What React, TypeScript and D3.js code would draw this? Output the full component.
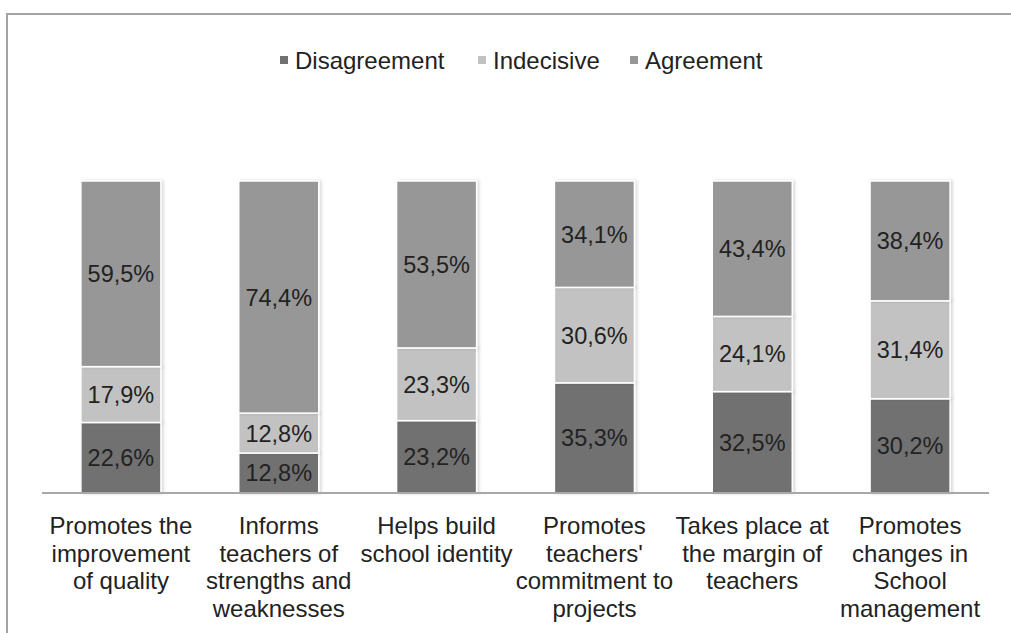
import { useEffect, useRef } from 'react';
import * as d3 from 'd3';

const categories = [
  ['Promotes the', 'improvement', 'of quality'],
  ['Informs', 'teachers of', 'strengths and', 'weaknesses'],
  ['Helps build', 'school identity'],
  ['Promotes', "teachers'", 'commitment to', 'projects'],
  ['Takes place at', 'the margin of', 'teachers'],
  ['Promotes', 'changes in', 'School', 'management'],
];
const seriesNames = ['Disagreement', 'Indecisive', 'Agreement'];
const disagreement = [22.6, 12.8, 23.2, 35.3, 32.5, 30.2];
const indecisive = [17.9, 12.8, 23.3, 30.6, 24.1, 31.4];
const agreement = [59.5, 74.4, 53.5, 34.1, 43.4, 38.4];
const colors = ['#717171', '#c2c2c2', '#979797'];

export default function App() {
  const ref = useRef<HTMLDivElement>(null);
  useEffect(() => {
    const width = 1011;
    const height = 633;
    const plotLeft = 42;
    const plotRight = 989;
    const plotTop = 181;
    const plotBottom = 493;
    const font = 'Liberation Sans, Arial, sans-serif';

    const rows = categories.map((c, i) => ({
      key: String(i),
      Disagreement: disagreement[i],
      Indecisive: indecisive[i],
      Agreement: agreement[i],
    }));
    const stacked = d3.stack<any>().keys(seriesNames)(rows);

    const x = d3.scaleBand()
      .domain(rows.map((r) => r.key))
      .range([plotLeft, plotRight])
      .paddingInner(0.493)
      .paddingOuter(0.2465);
    const y = d3.scaleLinear().domain([0, 100]).range([plotBottom, plotTop]);
    const color = d3.scaleOrdinal<string>().domain(seriesNames).range(colors);

    const svg = d3.create('svg')
      .attr('width', width)
      .attr('height', height)
      .attr('viewBox', [0, 0, width, height])
      .style('position', 'absolute')
      .style('left', '0px')
      .style('top', '0px')
      .style('background', '#fff');

    const defs = svg.append('defs');
    const filt = defs.append('filter').attr('id', 'shadow')
      .attr('x', '-10%').attr('y', '-10%').attr('width', '120%').attr('height', '120%');
    filt.append('feDropShadow')
      .attr('dx', 2).attr('dy', 0).attr('stdDeviation', 1.5)
      .attr('flood-color', '#000').attr('flood-opacity', 0.15);

    // frame (top and left only)
    svg.append('path')
      .attr('d', `M7,${height} V14 H${width}`)
      .attr('fill', 'none')
      .attr('stroke', '#a3a3a3')
      .attr('stroke-width', 2);

    // bars
    const layers = svg.append('g')
      .selectAll('g')
      .data(stacked)
      .join('g')
      .attr('fill', (d) => color(d.key));

    layers.selectAll('rect')
      .data((d) => d)
      .join('rect')
      .attr('x', (d) => x(d.data.key)!)
      .attr('width', x.bandwidth())
      .attr('y', (d) => y(d[1]))
      .attr('height', (d) => y(d[0]) - y(d[1]))
      .attr('stroke', '#fff')
      .attr('stroke-width', 1.5)
      .attr('filter', 'url(#shadow)');

    // value labels
    layers.selectAll('text')
      .data((d) => d)
      .join('text')
      .attr('x', (d) => x(d.data.key)! + x.bandwidth() / 2)
      .attr('y', (d) => (y(d[0]) + y(d[1])) / 2)
      .attr('dy', '0.36em')
      .attr('text-anchor', 'middle')
      .attr('fill', '#222')
      .attr('font-family', font)
      .attr('font-size', 23.5)
      .text((d) => (d[1] - d[0]).toFixed(1).replace('.', ',') + '%');

    // baseline
    svg.append('line')
      .attr('x1', plotLeft).attr('x2', plotRight)
      .attr('y1', plotBottom).attr('y2', plotBottom)
      .attr('stroke', '#a8a8a8')
      .attr('stroke-width', 2);

    // category labels
    const catG = svg.append('g')
      .attr('font-family', font)
      .attr('font-size', 24)
      .attr('fill', '#222')
      .attr('text-anchor', 'middle');
    categories.forEach((lines, i) => {
      const cx = x(String(i))! + x.bandwidth() / 2;
      const t = catG.append('text').attr('x', cx).attr('y', 534);
      lines.forEach((l, j) => {
        t.append('tspan')
          .attr('x', cx)
          .attr('dy', j === 0 ? 0 : 27.5)
          .text(l);
      });
    });

    // legend
    const legendX = [280, 478, 630];
    const lg = svg.append('g').attr('font-family', font).attr('font-size', 24).attr('fill', '#222');
    seriesNames.forEach((s, i) => {
      lg.append('rect')
        .attr('x', legendX[i]).attr('y', 56)
        .attr('width', 8).attr('height', 8)
        .attr('fill', color(s));
      lg.append('text')
        .attr('x', legendX[i] + 15)
        .attr('y', 69)
        .text(s);
    });

    const node = svg.node()!;
    ref.current?.append(node);
    return () => {
      node.remove();
    };
  }, []);
  return <div ref={ref}></div>;
}
